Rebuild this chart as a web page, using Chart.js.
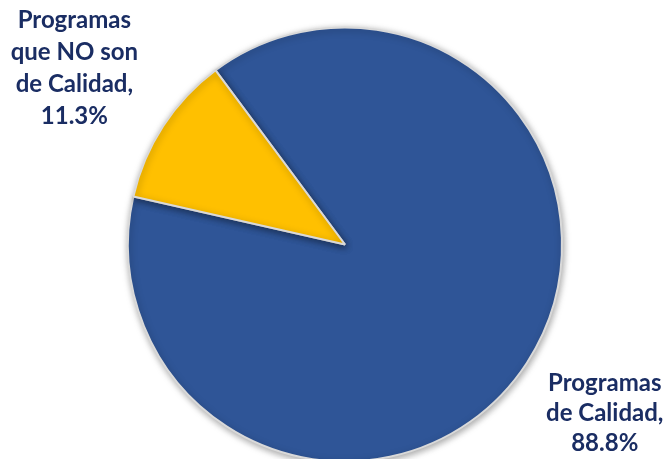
<!DOCTYPE html>
<html lang="es">
<head>
  <meta charset="UTF-8">
  <title>Programas de Calidad</title>
  <script src="https://cdn.jsdelivr.net/npm/chart.js"></script>
  <style>
    html, body { margin: 0; padding: 0; background: #fff; overflow: hidden; }
    #wrap { width: 669px; height: 472px; position: relative; }
  </style>
</head>
<body>
  <div id="wrap"><canvas id="pieChart"></canvas></div>

  <script>
    // datos del gráfico
    const categories = ["Programas de Calidad", "Programas que NO son de Calidad"];
    const labelLines = [["Programas", "de Calidad,"], ["Programas", "que NO son", "de Calidad,"]];
    const percents = [88.8, 11.3];
    const colors = ["#2F5597", "#FFC000"];

    // etiquetas fuera del pastel, sobre el ángulo medio de cada porción
    const outsideLabels = {
      id: "outsideLabels",
      afterDatasetsDraw(chart) {
        const ctx = chart.ctx;
        const meta = chart.getDatasetMeta(0);
        ctx.save();
        ctx.font = "bold 24px Lato";
        ctx.fillStyle = "#1A2D63";
        ctx.textAlign = "center";
        ctx.textBaseline = "middle";
        meta.data.forEach((arc, i) => {
          const p = arc.getProps(["x", "y", "startAngle", "endAngle", "outerRadius"], true);
          const mid = (p.startAngle + p.endAngle) / 2;
          const dist = p.outerRadius + (i === 0 ? 93 : 106);
          const cx = p.x + Math.cos(mid) * dist;
          const cy = p.y + Math.sin(mid) * dist;
          const lines = labelLines[i].concat([percents[i].toFixed(1) + "%"]);
          const spacing = i === 0 ? 30 : 32;
          const top = cy - (lines.length - 1) * spacing / 2;
          lines.forEach((t, k) => ctx.fillText(t, cx, top + k * spacing));
        });
        ctx.restore();
      }
    };

    const pieShadow = {
      id: "pieShadow",
      beforeDatasetDraw(chart) {
        const ctx = chart.ctx;
        ctx.save();
        ctx.shadowColor = "rgba(0,0,0,0.35)";
        ctx.shadowBlur = 7;
        ctx.shadowOffsetX = 1;
        ctx.shadowOffsetY = 2;
      },
      afterDatasetDraw(chart) {
        chart.ctx.restore();
      }
    };

    new Chart(document.getElementById("pieChart"), {
      type: "pie",
      data: {
        labels: categories,
        datasets: [{
          data: percents,
          backgroundColor: colors,
          borderColor: "#D9D9D9",
          borderWidth: 2
        }]
      },
      options: {
        responsive: true,
        maintainAspectRatio: false,
        animation: false,
        rotation: -36.6,
        layout: { padding: { left: 127, right: 106, top: 26, bottom: 9 } },
        plugins: {
          legend: { display: false },
          tooltip: { enabled: false }
        }
      },
      plugins: [pieShadow, outsideLabels]
    });
  </script>
</body>
</html>
